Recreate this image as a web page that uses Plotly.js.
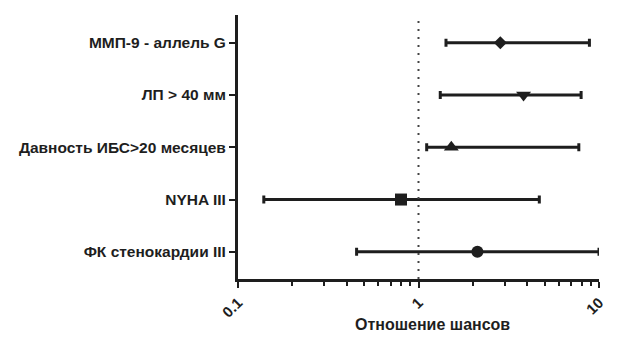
<!DOCTYPE html>
<html>
<head>
<meta charset="utf-8">
<script src="https://cdn.plot.ly/plotly-3.0.1.min.js"></script>
<style>html,body{margin:0;padding:0;background:#fff;}#chart{width:630px;height:351px;}</style>
</head>
<body>
<div id="chart"></div>
<script>
var categories = ["ММП-9 - аллель G", "ЛП > 40 мм", "Давность ИБС>20 месяцев", "NYHA III", "ФК стенокардии III"];
var oddsRatio = [2.84, 3.82, 1.52, 0.80, 2.12];
var ciLower = [1.42, 1.32, 1.11, 0.139, 0.454];
var ciUpper = [8.85, 7.96, 7.73, 4.67, 10.0];
var xTickVals = [0.1, 1, 10];
var xTickText = ["0.1", "1", "10"];
var xTitle = "Отношение шансов";

var symbols = ["diamond", "triangle-down", "triangle-up", "square", "circle"];
var sizes = [10, 13, 13, 12, 12];
var ink = "#1e1e1e";

var yPos = categories.map(function(c, i){ return categories.length - 1 - i; });
var plus = ciUpper.map(function(u, i){ return u - oddsRatio[i]; });
var minus = ciLower.map(function(l, i){ return oddsRatio[i] - l; });

var trace = {
  type: "scatter",
  mode: "markers",
  x: oddsRatio,
  y: yPos,
  marker: {symbol: symbols, size: sizes, color: ink, opacity: 1, line: {width: 0}},
  error_x: {type: "data", symmetric: false, array: plus, arrayminus: minus,
            color: ink, thickness: 3, width: 4},
  hoverinfo: "skip",
  showlegend: false
};

var layout = {
  width: 630, height: 351,
  margin: {l: 238, r: 31, t: 15, b: 72},
  paper_bgcolor: "#fff", plot_bgcolor: "#fff",
  font: {family: "Liberation Sans, Arial, sans-serif", color: ink},
  xaxis: {
    type: "log", range: [-1, 1],
    tickvals: xTickVals, ticktext: xTickText.map(function(t){ return "<b>" + t + "</b>"; }),
    tickangle: -45,
    ticks: "outside", ticklen: 6, tickwidth: 2, tickcolor: ink,
    showline: true, linewidth: 3, linecolor: ink,
    showgrid: false, zeroline: false,
    tickfont: {size: 15, color: ink},
    minor: {ticks: "outside", ticklen: 4, tickwidth: 2, tickcolor: ink, dtick: "D1", showgrid: false}
  },
  yaxis: {
    range: [-0.52, 4.53],
    tickvals: yPos, ticktext: categories.map(function(c){ return "<b>" + c + "</b>"; }),
    ticks: "outside", ticklen: 6, tickwidth: 2, tickcolor: ink,
    showline: true, linewidth: 3, linecolor: ink,
    showgrid: false, zeroline: false,
    tickfont: {size: 15.5, color: ink}
  },
  annotations: [{
    text: "<b>" + xTitle + "</b>", xref: "paper", yref: "paper",
    x: 0.54, y: -0.174, xanchor: "center", yanchor: "middle",
    showarrow: false, font: {size: 16, color: ink}
  }],
  shapes: [{
    type: "line", xref: "x", yref: "paper",
    x0: 1, x1: 1, y0: 0, y1: 1,
    line: {color: "#444", width: 2, dash: "2px,6px"}
  }]
};

Plotly.newPlot("chart", [trace], layout, {displayModeBar: false, staticPlot: true});
</script>
</body>
</html>
